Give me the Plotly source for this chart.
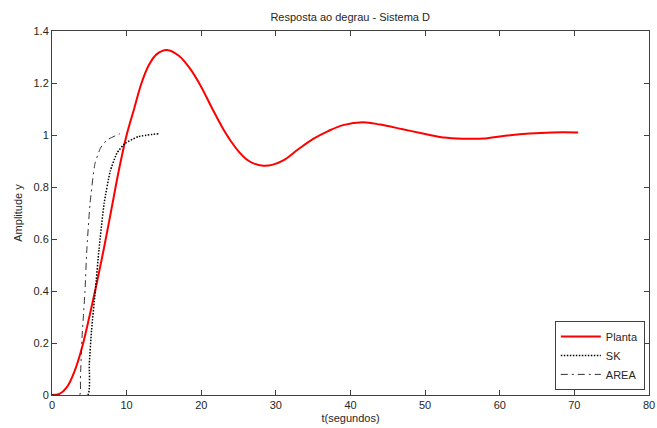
import plotly.graph_objects as go

# Step response of the plant (Planta)
t_planta = [0, 1, 2, 3, 4, 5, 6, 7, 8, 9, 10, 11, 12, 13, 14, 15.4, 17, 18.5, 20,
            21.5, 23, 24, 25, 26, 27, 28.3, 29.5, 31, 33, 35, 37, 39, 41.7, 44, 47,
            50, 52.5, 55, 58, 61, 64, 67, 70.5]
y_planta = [0, 0.004, 0.03, 0.09, 0.18, 0.30, 0.43, 0.57, 0.72, 0.87, 1.00, 1.10,
            1.20, 1.27, 1.31, 1.327, 1.305, 1.255, 1.185, 1.10, 1.02, 0.975, 0.937,
            0.908, 0.891, 0.882, 0.885, 0.902, 0.945, 0.985, 1.015, 1.038, 1.049,
            1.04, 1.022, 1.004, 0.99, 0.986, 0.987, 0.998, 1.006, 1.01, 1.01]

# Model identified by the SK method
t_sk = [0, 4.8, 5.0, 5.3, 5.8, 6.3, 7.0, 7.8, 8.7, 9.8, 11.6, 14.25]
y_sk = [0, 0, 0.12, 0.25, 0.40, 0.56, 0.74, 0.86, 0.93, 0.968, 0.994, 1.005]

# Model identified by the area method
t_area = [0, 3.7, 3.8, 4.0, 4.2, 4.42, 4.65, 5.1, 5.76, 6.5, 7.33, 9.1]
y_area = [0, 0, 0.06, 0.21, 0.30, 0.40, 0.55, 0.737, 0.89, 0.95, 0.98, 1.005]

x_ticks = [0, 10, 20, 30, 40, 50, 60, 70, 80]
y_ticks = [0, 0.2, 0.4, 0.6, 0.8, 1, 1.2, 1.4]

FONT = "Liberation Sans, Arial, sans-serif"
AXIS_COLOR = "#404040"
TEXT_COLOR = "#262626"

fig = go.Figure()
fig.add_trace(go.Scatter(x=t_planta, y=y_planta, mode="lines", name="Planta",
                         line=dict(color="#ff0000", width=2, shape="spline", smoothing=1.0)))
fig.add_trace(go.Scatter(x=t_sk, y=y_sk, mode="lines", name="SK",
                         line=dict(color="#000000", width=1.5, dash="1.5px,1.5px",
                                   shape="spline", smoothing=0.5)))
fig.add_trace(go.Scatter(x=t_area, y=y_area, mode="lines", name="AREA",
                         line=dict(color="#333333", width=1, dash="7px,4px,2px,4px",
                                   shape="spline", smoothing=0.5)))

axis_common = dict(
    showgrid=False, zeroline=False, showline=True, linecolor=AXIS_COLOR, linewidth=1,
    mirror="ticks", ticks="inside", ticklen=5, tickcolor=AXIS_COLOR, tickwidth=1,
    automargin=False,
    tickfont=dict(family=FONT, size=11, color=TEXT_COLOR),
)

fig.update_xaxes(range=[0, 80], tickvals=x_ticks, **axis_common,
                 title=dict(text="t(segundos)", font=dict(family=FONT, size=11, color=TEXT_COLOR),
                            standoff=4))
fig.update_yaxes(range=[0, 1.4], tickvals=y_ticks, **axis_common,
                 title=dict(text="Amplitude y", font=dict(family=FONT, size=11, color=TEXT_COLOR),
                            standoff=8))

fig.update_layout(
    width=657, height=428,
    margin=dict(l=52, r=8, t=31, b=33),
    paper_bgcolor="white", plot_bgcolor="white",
    title=dict(text="Resposta ao degrau - Sistema D", x=0.533, xanchor="center",
               y=0.96, yanchor="middle",
               font=dict(family=FONT, size=11, color=TEXT_COLOR)),
    showlegend=True,
    legend=dict(x=0.993, xanchor="right", y=0.014, yanchor="bottom",
                bgcolor="white", bordercolor=AXIS_COLOR, borderwidth=1,
                font=dict(family=FONT, size=11, color=TEXT_COLOR),
                tracegroupgap=0, itemwidth=40),
)

fig.write_html("out.html")
